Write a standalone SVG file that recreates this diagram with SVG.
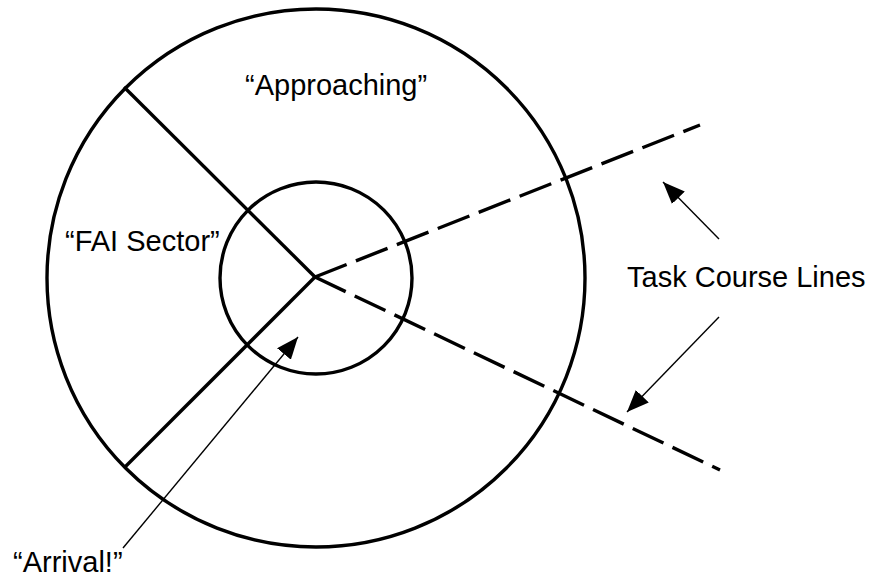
<svg xmlns="http://www.w3.org/2000/svg" width="873" height="577" viewBox="0 0 873 577">
<defs>
<style>
.ring{fill:none;stroke:#000;stroke-width:3.4}
.solid{stroke:#000;stroke-width:3.4;fill:none}
.dash{stroke:#000;stroke-width:3.4;fill:none;stroke-dasharray:34 10}
.ptr{stroke:#000;stroke-width:1.4;fill:none}
.lbl{font-family:"Liberation Sans",Arial,sans-serif;font-size:29px;fill:#000}
</style>
<marker id="ah" viewBox="0 0 22 18" refX="22" refY="9" markerWidth="22" markerHeight="18" markerUnits="userSpaceOnUse" orient="auto">
<path d="M0,0 L22,9 L0,18 Z" fill="#000"/>
</marker>
</defs>
<rect width="873" height="577" fill="#fff"/>
<g id="outer-circle"><circle class="ring" cx="316" cy="278" r="269"/></g>
<g id="inner-circle"><circle class="ring" cx="316" cy="278" r="96"/></g>
<g id="connectors">
<line class="solid" x1="315" y1="277" x2="124" y2="87"/>
<line class="solid" x1="315" y1="277" x2="124" y2="468"/>
<line class="dash" x1="315" y1="277" x2="700" y2="125"/>
<line class="dash" x1="315" y1="277" x2="720" y2="470"/>
<line class="ptr" x1="719" y1="239" x2="663" y2="182" marker-end="url(#ah)"/>
<line class="ptr" x1="719" y1="317" x2="627" y2="412" marker-end="url(#ah)"/>
<line class="ptr" x1="123" y1="548" x2="298" y2="337" marker-end="url(#ah)"/>
</g>
<g id="label-approaching"><text class="lbl" x="245" y="95">“Approaching”</text></g>
<g id="label-fai"><text class="lbl" x="65" y="251">“FAI Sector”</text></g>
<g id="label-task"><text class="lbl" x="627" y="287">Task Course Lines</text></g>
<g id="label-arrival"><text class="lbl" x="13" y="572">“Arrival!”</text></g>
</svg>
